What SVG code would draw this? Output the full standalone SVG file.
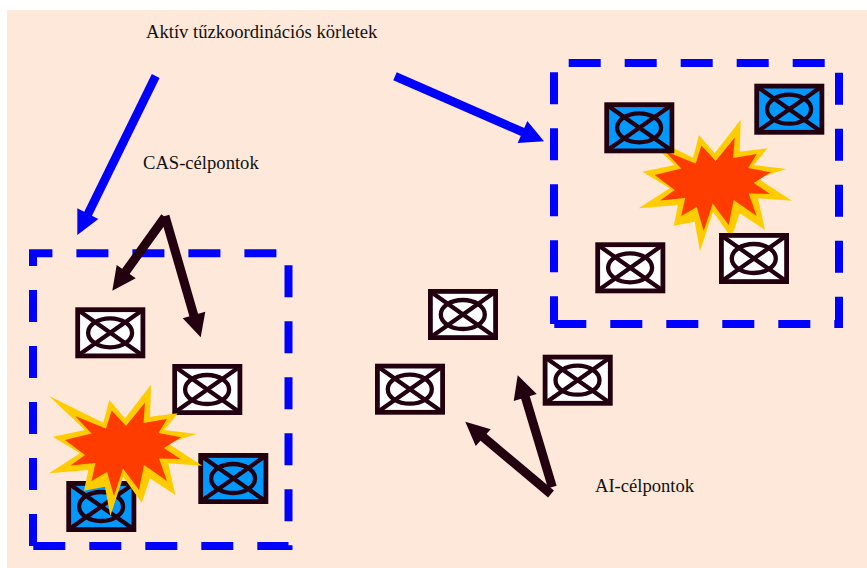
<svg xmlns="http://www.w3.org/2000/svg" width="867" height="568" viewBox="0 0 867 568">
<style>
.bg{fill:#fde8d9}
.zone{fill:none;stroke:#0000ff;stroke-width:8;stroke-dasharray:32 24}
.box{stroke:#220010;stroke-width:4.8}
.white{fill:#fff}
.hit{fill:#0099ff}
.mark{fill:none;stroke:#220010;stroke-width:4.3}
.blast-o{fill:#ffcc00}
.blast-i{fill:#ff3c00}
.lb{stroke:#0000ff;stroke-width:8.6;fill:none}
.hb{fill:#0000ff}
.ld{stroke:#220010;stroke-width:9;fill:none}
.hd{fill:#220010}
text{font-family:"Liberation Serif","Times New Roman",serif;font-size:18.6px;fill:#111}
</style>
<defs>
<g id="mark">
<ellipse class="mark" cx="34.8" cy="25.5" rx="22" ry="14.5"/>
<path class="mark" d="M3 3L67 48M67 3L3 48"/>
</g>
<g id="blast">
<polygon class="blast-o" points="49,396 103.3,422.7 109.3,400 125,418.3 151,384.7 150,416.7 177.7,413.3 164.3,430 196.7,434 167.7,443.3 202.3,465.7 168.3,463.3 175.3,495 150,478.3 141.7,502.7 123.3,476.7 110.3,516 105,486.7 84,490.7 88.3,470 49,473.3 80,453.3 52.7,436.7 85,430"/>
<polygon class="blast-i" points="75,416 106,428.5 111.7,410.5 126,426 145,402.5 143.5,423 167,419 158.5,433 181,437.3 164,448 180.5,459 159,458.5 167,481 144,465 139,490 123,468.5 114,496 107,472 91.5,481 95.5,463 70.5,465.5 85,455 65,440 91.5,433.5"/>
</g>
</defs>
<rect class="bg" x="7" y="10" width="860" height="558"/>
<g id="zone-left"><path class="zone" d="M33.3 546H288.5V253.3H33V546"/></g>
<g id="zone-right"><path class="zone" d="M554.3 324H839V63H554V324"/></g>
<g id="blast-right"><use href="#blast" transform="translate(589.7 -265)"/></g>
<g id="target-e"><g transform="translate(604.3 102.3)"><rect class="box hit" x="2.4" y="2.4" width="65.2" height="46.2"/><use href="#mark"/></g></g>
<g id="target-f"><g transform="translate(754.3 83.7)"><rect class="box hit" x="2.4" y="2.4" width="65.2" height="46.2"/><use href="#mark"/></g></g>
<g id="target-g"><g transform="translate(595.3 242.3)"><rect class="box white" x="2.4" y="2.4" width="65.2" height="46.2"/><use href="#mark"/></g></g>
<g id="target-h"><g transform="translate(719 233)"><rect class="box white" x="2.4" y="2.4" width="65.2" height="46.2"/><use href="#mark"/></g></g>
<g id="target-a"><g transform="translate(75.3 307.3)"><rect class="box white" x="2.4" y="2.4" width="65.2" height="46.2"/><use href="#mark"/></g></g>
<g id="target-b"><g transform="translate(172.3 364)"><rect class="box white" x="2.4" y="2.4" width="65.2" height="46.2"/><use href="#mark"/></g></g>
<g id="target-c"><g transform="translate(198.3 453)"><rect class="box hit" x="2.4" y="2.4" width="65.2" height="46.2"/><use href="#mark"/></g></g>
<g id="target-d"><g transform="translate(66.3 481)"><rect class="box hit" x="2.4" y="2.4" width="65.2" height="46.2"/><use href="#mark"/></g></g>
<g id="blast-left"><use href="#blast"/></g>
<g id="target-i"><g transform="translate(428 289)"><rect class="box white" x="2.4" y="2.4" width="65.2" height="46.2"/><use href="#mark"/></g></g>
<g id="target-j"><g transform="translate(375 363.7)"><rect class="box white" x="2.4" y="2.4" width="65.2" height="46.2"/><use href="#mark"/></g></g>
<g id="target-k"><g transform="translate(542.7 354.7)"><rect class="box white" x="2.4" y="2.4" width="65.2" height="46.2"/><use href="#mark"/></g></g>
<g id="connectors">
<line class="lb" x1="155.7" y1="76" x2="87" y2="216"/>
<polygon class="hb" points="77.3,235 77.3,208.3 98.3,219"/>
<line class="lb" x1="395" y1="76.3" x2="525" y2="133"/>
<polygon class="hb" points="544,141.3 527.3,121 517.7,143"/>
<line class="ld" x1="165" y1="217" x2="124" y2="274"/>
<polygon class="hd" points="112.3,290.7 116.7,265 135.7,278.3"/>
<line class="ld" x1="165" y1="216" x2="194" y2="316"/>
<polygon class="hd" points="200.7,337.3 182.7,318.3 205.3,311.7"/>
<line class="ld" x1="551" y1="494" x2="482" y2="436"/>
<polygon class="hd" points="465.3,421.7 475.7,446 490.7,429.3"/>
<line class="ld" x1="552.3" y1="487" x2="525" y2="396"/>
<polygon class="hd" points="517.7,375.3 513.7,401 536.7,394"/>
</g>
<g id="labels">
<text x="146" y="37.7">Aktív tűzkoordinációs körletek</text>
<text x="143" y="169.3">CAS-célpontok</text>
<text x="595" y="492">AI-célpontok</text>
</g>
</svg>
